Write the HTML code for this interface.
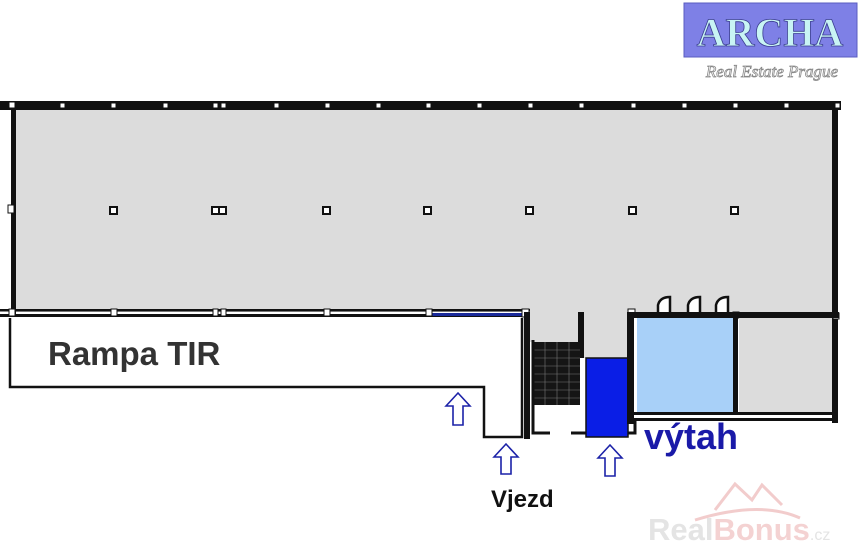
<!DOCTYPE html>
<html><head><meta charset="utf-8"><style>
html,body{margin:0;padding:0;background:#fff;width:860px;height:550px;overflow:hidden}
</style></head><body>
<svg width="860" height="550" viewBox="0 0 860 550" xmlns="http://www.w3.org/2000/svg">
<rect width="860" height="550" fill="#fff"/>
<rect x="684" y="3" width="173" height="54" fill="#7e80e6" stroke="#5a5cc0" stroke-width="1"/>
<text x="770" y="46" text-anchor="middle" font-family="Liberation Serif,serif" font-weight="bold" font-size="40" fill="#c8f4f4" stroke="#3a3c90" stroke-width="0.8">ARCHA</text>
<text x="772" y="77" text-anchor="middle" font-family="Liberation Serif,serif" font-style="italic" font-size="17" fill="#fff" stroke="#888" stroke-width="0.8">Real Estate Prague</text>

<rect x="14" y="108" width="821" height="204" fill="#dcdcdc"/>
<rect x="0" y="101" width="841" height="9" fill="#111"/>
<rect x="11" y="108" width="5" height="206" fill="#111"/>
<rect x="832" y="108" width="6" height="315" fill="#111"/>
<rect x="0" y="309" width="530" height="2.5" fill="#111"/>
<rect x="0" y="314" width="530" height="3" fill="#111"/>
<rect x="430" y="313" width="95" height="3" fill="#1a2a9a"/>
<g fill="#fff" stroke="#111" stroke-width="1">
<rect x="9" y="102" width="6" height="6"/><rect x="60" y="103" width="5" height="5"/><rect x="111" y="103" width="5" height="5"/><rect x="163" y="103" width="5" height="5"/><rect x="213" y="103" width="5" height="5"/><rect x="221" y="103" width="5" height="5"/><rect x="274" y="103" width="5" height="5"/><rect x="325" y="103" width="5" height="5"/><rect x="376" y="103" width="5" height="5"/><rect x="426" y="103" width="5" height="5"/><rect x="477" y="103" width="5" height="5"/><rect x="528" y="103" width="5" height="5"/><rect x="579" y="103" width="5" height="5"/><rect x="631" y="103" width="5" height="5"/><rect x="682" y="103" width="5" height="5"/><rect x="733" y="103" width="5" height="5"/><rect x="784" y="103" width="5" height="5"/><rect x="835" y="103" width="5" height="5"/>
<rect x="8" y="205" width="6" height="8"/><rect x="9" y="309" width="6" height="7"/><rect x="111" y="309" width="6" height="7"/><rect x="213" y="309" width="5" height="7"/><rect x="221" y="309" width="5" height="7"/><rect x="324" y="309" width="6" height="7"/><rect x="426" y="309" width="6" height="7"/><rect x="522" y="309" width="7" height="8"/>
<rect x="628" y="309" width="7" height="7"/><rect x="733" y="312" width="6" height="6"/><rect x="833" y="313" width="6" height="6"/>
</g>
<g fill="#fff" stroke="#111" stroke-width="2">
<rect x="110" y="207" width="7" height="7"/><rect x="212" y="207" width="7" height="7"/><rect x="219" y="207" width="7" height="7"/><rect x="323" y="207" width="7" height="7"/><rect x="424" y="207" width="7" height="7"/><rect x="526" y="207" width="7" height="7"/><rect x="629" y="207" width="7" height="7"/><rect x="731" y="207" width="7" height="7"/>
</g>
<path d="M10,318 V387 H484 V437 H522 V318" fill="#fff" stroke="#111" stroke-width="2.5"/>
<text x="48" y="365" font-family="Liberation Sans,sans-serif" font-weight="bold" font-size="33" fill="#333">Rampa TIR</text>
<rect x="524" y="312" width="6" height="127" fill="#111"/>
<rect x="530" y="312" width="48" height="30" fill="#dcdcdc"/>
<rect x="584" y="312" width="44" height="46" fill="#dcdcdc"/>
<rect x="578" y="312" width="6" height="46" fill="#111"/>
<rect x="533" y="342" width="47" height="63" fill="#151515"/>
<g stroke="#777" stroke-width="0.6">
<line x1="545" y1="342" x2="545" y2="405"/><line x1="557" y1="342" x2="557" y2="405"/><line x1="569" y1="342" x2="569" y2="405"/>
<line x1="533" y1="350" x2="580" y2="350"/><line x1="533" y1="358" x2="580" y2="358"/><line x1="533" y1="366" x2="580" y2="366"/><line x1="533" y1="374" x2="580" y2="374"/><line x1="533" y1="382" x2="580" y2="382"/><line x1="533" y1="390" x2="580" y2="390"/><line x1="533" y1="398" x2="580" y2="398"/>
</g>
<path d="M533,340 V433 H550 M571,433 H635 V420" fill="none" stroke="#111" stroke-width="3"/>
<rect x="586" y="358" width="42" height="79" fill="#0a1ee6" stroke="#111" stroke-width="1.5"/>
<rect x="627" y="312" width="7" height="112" fill="#111"/>
<rect x="634" y="312" width="205" height="6" fill="#111"/>
<rect x="637" y="318" width="96" height="94" fill="#a8d0f8"/>
<rect x="739" y="318" width="93" height="94" fill="#dcdcdc"/>
<rect x="733" y="318" width="5" height="96" fill="#111"/>
<rect x="634" y="412" width="204" height="3" fill="#111"/>
<rect x="634" y="418" width="204" height="3" fill="#111"/>
<g fill="#fff" stroke="#111" stroke-width="2.5">
<path d="M658,312 V305 Q660,297 670,297 V312"/><path d="M688,312 V305 Q690,297 700,297 V312"/><path d="M716,312 V305 Q718,297 728,297 V312"/>
</g>
<g fill="#fff" stroke="#1c22a8" stroke-width="1.6">
<path d="M446,406 L458,393 L470,406 H463 V425 H453 V406 Z"/>
<path d="M494,457 L506,444 L518,457 H511 V474 H501 V457 Z"/>
<path d="M598,458 L610,445 L622,458 H615 V476 H605 V458 Z"/>
</g>
<text x="644" y="449" font-family="Liberation Sans,sans-serif" font-weight="bold" font-size="36" fill="#1a1aa8">výtah</text>
<text x="491" y="507" font-family="Liberation Sans,sans-serif" font-weight="bold" font-size="24" fill="#111">Vjezd</text>
<g fill="none" stroke="#f2cccc" stroke-width="3">
<path d="M715,510 L735,484 L752,500 L762,485 L782,505"/>
<path d="M695,520 Q760,500 800,518"/>
</g>
<text x="648" y="540" font-family="Liberation Sans,sans-serif" font-weight="bold" font-size="31" fill="#e4e4e4">Real<tspan fill="#f4d2d2">Bonus</tspan><tspan font-size="16" font-weight="normal" fill="#e4e4e4">.cz</tspan></text>
</svg>
</body></html>
